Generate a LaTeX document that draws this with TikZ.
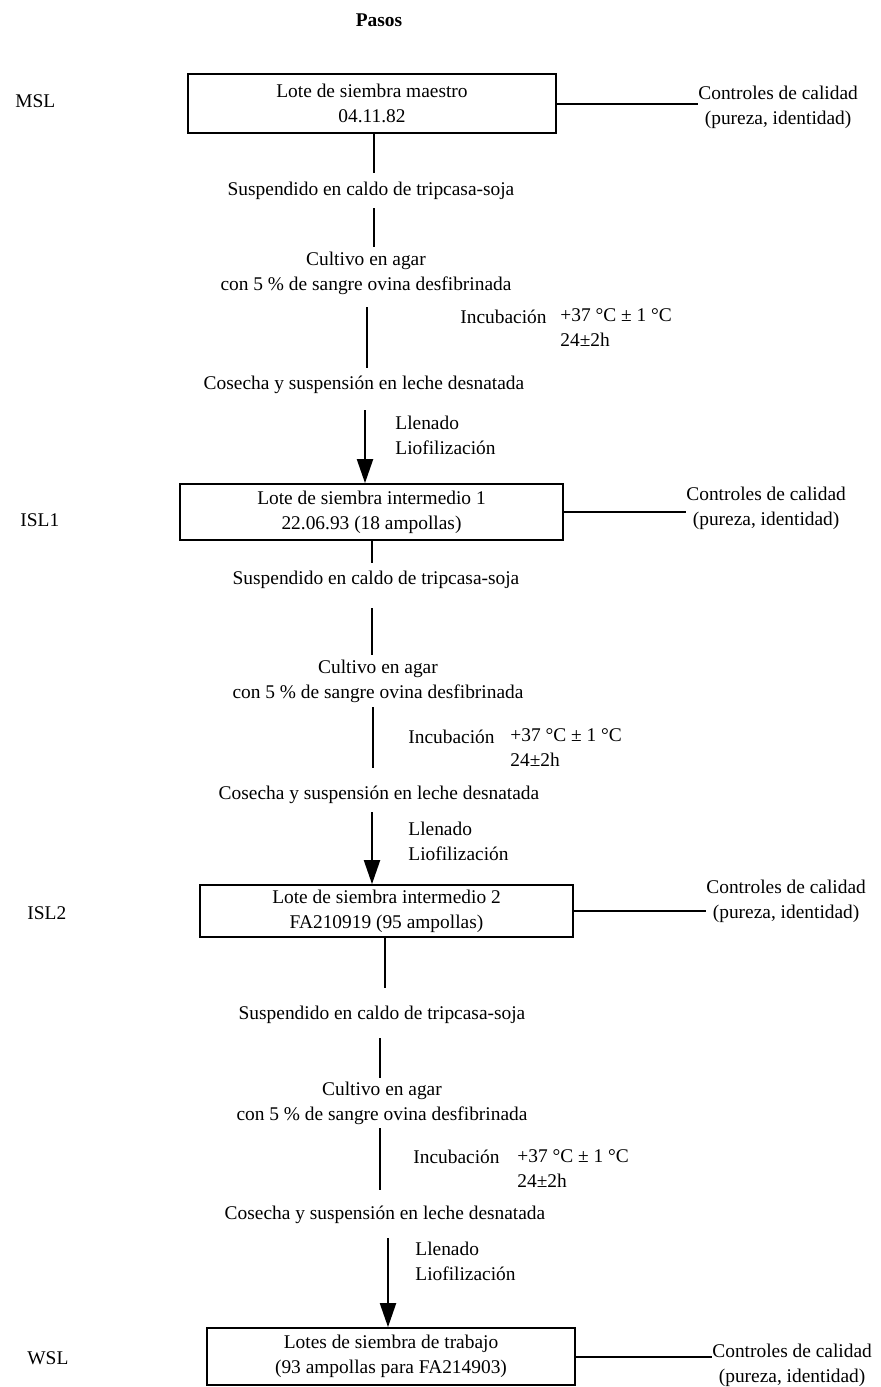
\documentclass[tikz,border=0pt]{standalone}
\usepackage{fontspec}
\setmainfont{Liberation Serif}
\usetikzlibrary{arrows.meta}
\begin{document}
\begin{tikzpicture}[x=0.5pt,y=-0.5pt,
  every node/.style={font=\fontsize{9.7}{12.5}\selectfont, inner sep=0pt},
  lotbox/.style={draw, line width=0.85pt, align=center},
  conn/.style={line width=1pt},
  arr/.style={line width=1pt, -{Triangle[length=12pt,width=8pt]}},
  lbl/.style={anchor=west},
  qc/.style={anchor=west, align=center},
  txt/.style={align=center},
  side/.style={anchor=west, align=left}]
\useasboundingbox (0,0) rectangle (880,1387);

\node[font=\fontsize{9.7}{12.5}\selectfont\bfseries] (pasos) at (379,20) {Pasos};

% ---------- MSL ----------
\node[lbl] (msl) at (15,101) {MSL};
\node[lotbox, minimum width=184pt, minimum height=29.5pt] (b1) at (372,103.5) {Lote de siembra maestro\\04.11.82};
\node[qc] (q1) at (698,107.5) {Controles de calidad\\(pureza, identidad)};
\draw[conn] (b1.east) -- (b1.east -| q1.west);

\node[txt] (s1) at (371,191) {Suspendido en caldo de tripcasa-soja};
\node[txt] (c1) at (366,273) {Cultivo en agar\\con 5 \% de sangre ovina desfibrinada};
\node[lbl] (inc1) at (460,317) {Incubación};
\node[side] (t1) at (560,327.5) {+37 °C ± 1 °C\\24±2h};
\node[txt] (h1) at (364,385) {Cosecha y suspensión en leche desnatada};
\node[side] (ll1) at (395,435) {Llenado\\Liofilización};

\coordinate (a1e) at (374,173);
\coordinate (a2s) at (374,208); \coordinate (a2e) at (374,247);
\coordinate (a3s) at (367,307); \coordinate (a3e) at (367,368);
\coordinate (a4s) at (365,410);
\draw[conn] (b1.south -| a1e) -- (a1e);
\draw[conn] (a2s) -- (a2e);
\draw[conn] (a3s) -- (a3e);

% ---------- ISL1 ----------
\node[lbl] (isl1) at (20,520) {ISL1};
\node[lotbox, minimum width=191.5pt, minimum height=28pt] (b2) at (371.5,512) {Lote de siembra intermedio 1\\22.06.93 (18 ampollas)};
\draw[arr] (a4s) -- (b2.north -| a4s);
\node[qc] (q2) at (686,508) {Controles de calidad\\(pureza, identidad)};
\draw[conn] (b2.east) -- (b2.east -| q2.west);

\node[txt] (s2) at (376,580) {Suspendido en caldo de tripcasa-soja};
\node[txt] (c2) at (378,681) {Cultivo en agar\\con 5 \% de sangre ovina desfibrinada};
\node[lbl] (inc2) at (408,737) {Incubación};
\node[side] (t2) at (510,748) {+37 °C ± 1 °C\\24±2h};
\node[txt] (h2) at (379,795) {Cosecha y suspensión en leche desnatada};
\node[side] (ll2) at (408,841) {Llenado\\Liofilización};

\coordinate (d1e) at (372,563);
\coordinate (d2s) at (372,608); \coordinate (d2e) at (372,655);
\coordinate (d3s) at (373,707); \coordinate (d3e) at (373,768);
\coordinate (d4s) at (372,812);
\draw[conn] (b2.south -| d1e) -- (d1e);
\draw[conn] (d2s) -- (d2e);
\draw[conn] (d3s) -- (d3e);

% ---------- ISL2 ----------
\node[lbl] (isl2) at (27,913) {ISL2};
\node[lotbox, minimum width=186.5pt, minimum height=26pt] (b3) at (386.5,911) {Lote de siembra intermedio 2\\FA210919 (95 ampollas)};
\draw[arr] (d4s) -- (b3.north -| d4s);
\node[qc] (q3) at (706,901) {Controles de calidad\\(pureza, identidad)};
\draw[conn] (b3.east) -- (b3.east -| q3.west);

\node[txt] (s3) at (382,1015) {Suspendido en caldo de tripcasa-soja};
\node[txt] (c3) at (382,1103.5) {Cultivo en agar\\con 5 \% de sangre ovina desfibrinada};
\node[lbl] (inc3) at (413,1157) {Incubación};
\node[side] (t3) at (517,1168.5) {+37 °C ± 1 °C\\24±2h};
\node[txt] (h3) at (385,1215) {Cosecha y suspensión en leche desnatada};
\node[side] (ll3) at (415,1261) {Llenado\\Liofilización};

\coordinate (e1e) at (385,988);
\coordinate (e2s) at (380,1038); \coordinate (e2e) at (380,1078);
\coordinate (e3s) at (380,1128); \coordinate (e3e) at (380,1190);
\coordinate (e4s) at (388,1238);
\draw[conn] (b3.south -| e1e) -- (e1e);
\draw[conn] (e2s) -- (e2e);
\draw[conn] (e3s) -- (e3e);

% ---------- WSL ----------
\node[lbl] (wsl) at (27,1358) {WSL};
\node[lotbox, minimum width=184pt, minimum height=28.5pt] (b4) at (391,1356.5) {Lotes de siembra de trabajo\\(93 ampollas para FA214903)};
\draw[arr] (e4s) -- (b4.north -| e4s);
\node[qc] (q4) at (712,1365) {Controles de calidad\\(pureza, identidad)};
\draw[conn] (b4.east) -- (b4.east -| q4.west);
\end{tikzpicture}
\end{document}
